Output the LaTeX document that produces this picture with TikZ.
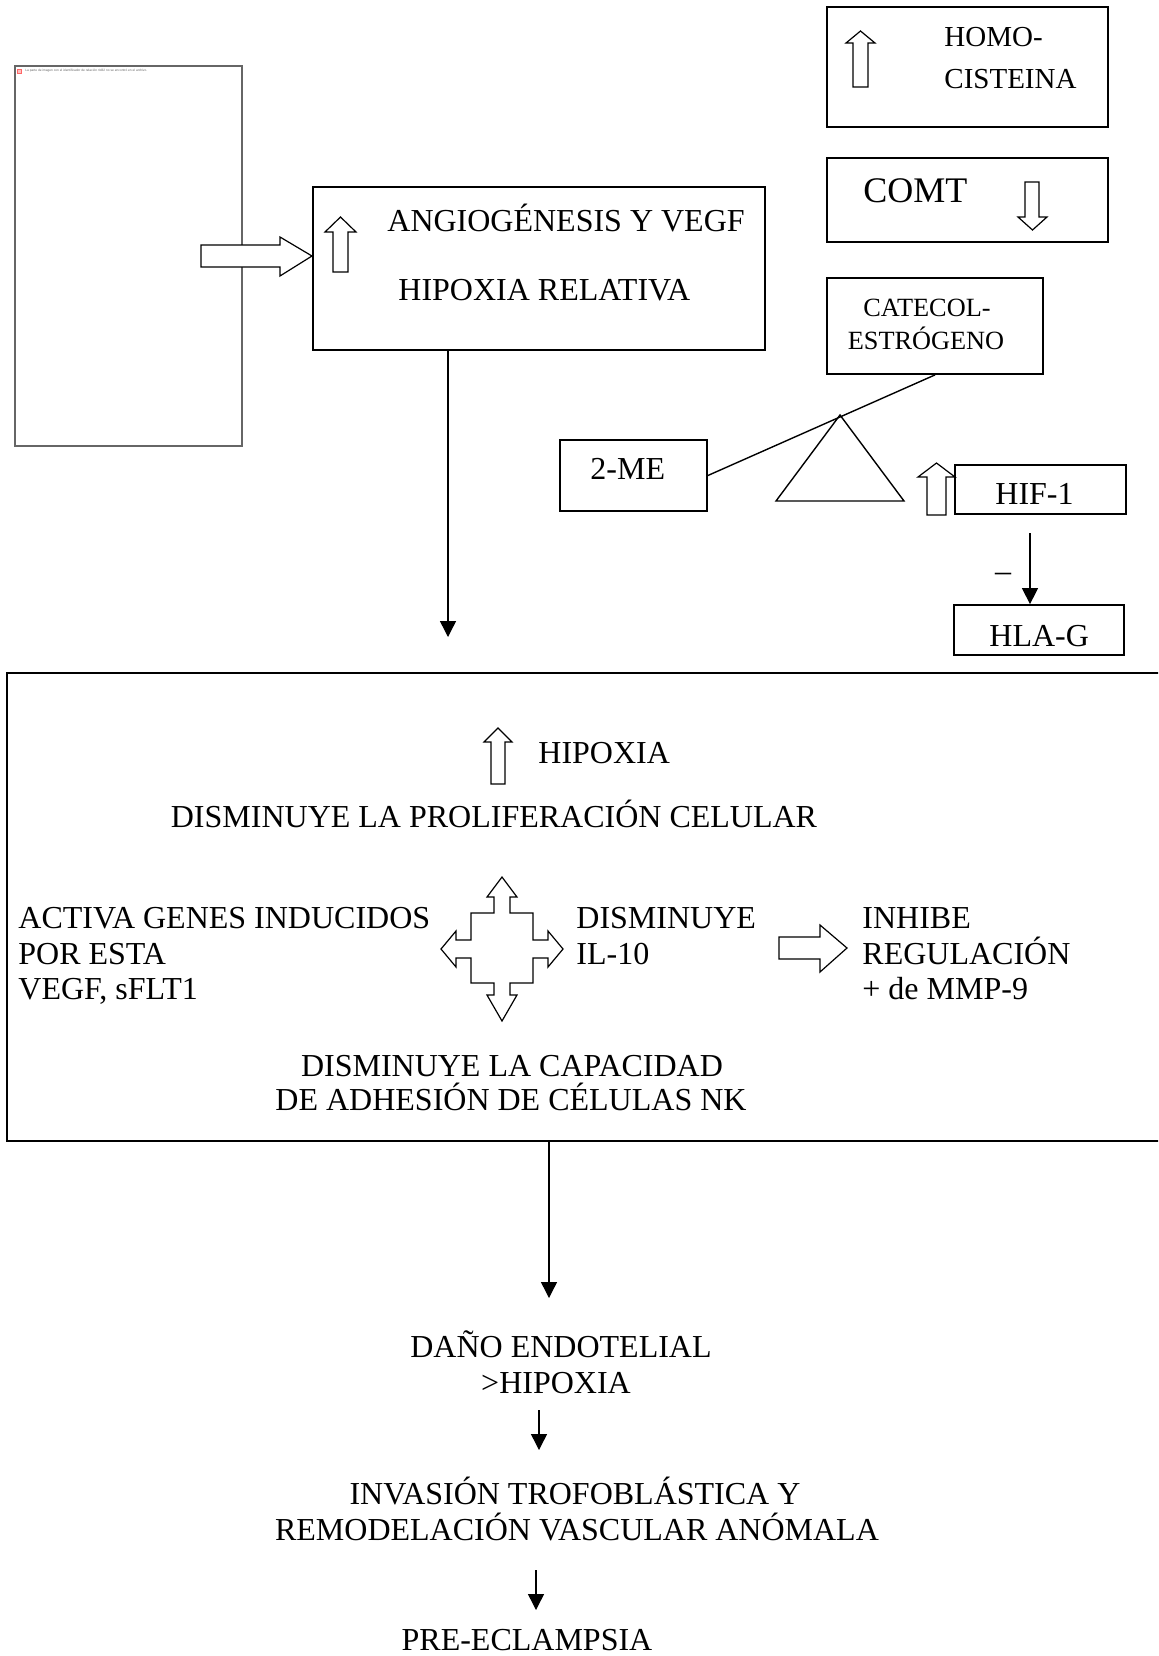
\documentclass[tikz,border=0pt]{standalone}
\usepackage{fontspec}
\setmainfont{Liberation Serif}
\newfontfamily\smallsans{Liberation Sans}
\usetikzlibrary{arrows.meta}
\tikzset{
  boxnode/.style={draw, line width=0.9pt, inner sep=0pt, rectangle},
  txt/.style={inner sep=0pt, font=\fontsize{16}{18}\selectfont},
  blk/.style={draw, line width=0.6pt, fill=white, line join=miter},
  arr/.style={line width=0.7pt, -{Triangle[width=8pt,length=8pt]}},
  plain/.style={line width=0.7pt}
}
\begin{document}
\begin{tikzpicture}[x=0.5pt, y=-0.5pt]
\useasboundingbox (0,0) rectangle (1158,1656);
\clip (0,0) rectangle (1158,1656);
\fill[white] (0,0) rectangle (1158,1656);

% missing picture frame
\node[draw=black!60, line width=0.6pt, inner sep=0pt, minimum width=113.5pt, minimum height=190pt] (img) at (128.5,256) {};
\node[draw=red!60, fill=red!25, line width=0.2pt, inner sep=0pt, minimum size=2pt] (icon) at (19,71) {};
\node[inner sep=0pt, anchor=west, text=black!60, font=\smallsans\fontsize{1.6}{2}\selectfont] (imgtxt) at (25,71) {La parte de imagen con el identificador de relación rId32 no se encontró en el archivo.};

% block arrow into angiogenesis box
\draw[blk] (201,245) -- (280,245) -- (280,237) -- (312,256) -- (280,276) -- (280,267) -- (201,267) -- cycle;

% angiogenesis box
\node[boxnode, minimum width=226pt, minimum height=81.5pt] (angio) at (539,268.5) {};
\draw[blk] (340.5,217) -- (356,232) -- (348,232) -- (348,272) -- (333,272) -- (333,232) -- (325,232) -- cycle;
\node[txt, anchor=base west] (angio1) at (387,231) {ANGIOGÉNESIS Y VEGF};
\node[txt, anchor=base west] (angio2) at (398,300) {HIPOXIA RELATIVA};

% homocisteina
\node[boxnode, minimum width=140.5pt, minimum height=60pt] (homo) at (967.5,67) {};
\draw[blk] (860.5,31) -- (875,43) -- (868,43) -- (868,87) -- (853,87) -- (853,43) -- (846,43) -- cycle;
\node[txt, font=\fontsize{14.5}{17}\selectfont, anchor=base west] (homo1) at (944,46) {HOMO-};
\node[txt, font=\fontsize{14.5}{17}\selectfont, anchor=base west] (homo2) at (944,88) {CISTEINA};

% COMT
\node[boxnode, minimum width=140.5pt, minimum height=42pt] (comt) at (967.5,200) {};
\node[txt, font=\fontsize{18}{21}\selectfont, anchor=base west] (comtt) at (863,202) {COMT};
\draw[blk] (1025,182) -- (1039,182) -- (1039,217) -- (1047,217) -- (1032.5,230) -- (1018,217) -- (1025,217) -- cycle;

% catecol-estrogeno
\node[boxnode, minimum width=108pt, minimum height=48pt] (cat) at (935,326) {};
\node[txt, font=\fontsize{13.15}{15}\selectfont, anchor=base] (cat1) at (927,316) {CATECOL-};
\node[txt, font=\fontsize{13.15}{15}\selectfont, anchor=base] (cat2) at (926,349) {ESTRÓGENO};

% 2-ME and balance
\node[boxnode, minimum width=73.5pt, minimum height=35.5pt] (me) at (633.5,475.5) {};
\node[txt, anchor=base west] (met) at (590,479) {2-ME};
\draw[plain] (me.east) -- (cat.south);
\draw[plain, line join=miter] (840,415) -- (904,501) -- (776,501) -- cycle;

% HIF-1
\draw[blk] (936.5,463) -- (955,477) -- (946,477) -- (946,515) -- (927,515) -- (927,477) -- (918,477) -- cycle;
\node[boxnode, minimum width=85.5pt, minimum height=24.5pt] (hif) at (1040.5,489.5) {};
\node[txt, anchor=base west] (hift) at (995,504) {HIF-1};

% HLA-G
\node[boxnode, minimum width=85pt, minimum height=25pt] (hla) at (1039,630) {};
\node[txt, anchor=base west] (hlat) at (989,646) {HLA-G};
\coordinate (s3) at (1030,533);
\draw[arr] (s3) -- (hla.north -| s3);
\node[txt] (minus) at (1003,577) {–};

% main arrow down
\coordinate (t1) at (448,637);
\draw[arr] (angio.south -| t1) -- (t1);

% big box
\node[boxnode, minimum width=584pt, minimum height=234pt] (big) at (591,907) {};
\draw[blk] (498,728) -- (512,742) -- (505,742) -- (505,784) -- (491,784) -- (491,742) -- (484,742) -- cycle;
\node[txt, anchor=base west] (hip) at (538,763) {HIPOXIA};
\node[txt, anchor=base] (prol) at (494,827) {DISMINUYE LA PROLIFERACIÓN CELULAR};
\node[txt, anchor=base west] (act1) at (18,928) {ACTIVA GENES INDUCIDOS};
\node[txt, anchor=base west] (act2) at (18,964) {POR ESTA};
\node[txt, anchor=base west] (act3) at (18,999) {VEGF, sFLT1};
\node[txt, anchor=base west] (il1) at (576,928) {DISMINUYE};
\node[txt, anchor=base west] (il2) at (576,964) {IL-10};
\node[txt, anchor=base west] (inh1) at (862,928) {INHIBE};
\node[txt, anchor=base west] (inh2) at (862,964) {REGULACIÓN};
\node[txt, anchor=base west] (inh3) at (862,999) {+ de MMP-9};
\node[txt, anchor=base] (cap1) at (512,1076) {DISMINUYE LA CAPACIDAD};
\node[txt, anchor=base] (cap2) at (511,1110) {DE ADHESIÓN DE CÉLULAS NK};
% quad arrow
\begin{scope}[shift={(502,949)}]
\draw[blk] (0,-72) -- (15,-52) -- (8,-52) -- (8,-36) -- (31,-36) -- (31,-9) -- (46,-9) -- (46,-18) -- (61,0) -- (46,18) -- (46,9) -- (31,9) -- (31,34) -- (8,34) -- (8,46) -- (15,46) -- (0,72) -- (-15,46) -- (-8,46) -- (-8,34) -- (-31,34) -- (-31,9) -- (-46,9) -- (-46,18) -- (-61,0) -- (-46,-18) -- (-46,-9) -- (-31,-9) -- (-31,-36) -- (-8,-36) -- (-8,-52) -- (-15,-52) -- cycle;
\end{scope}
% right block arrow
\draw[blk] (779,937) -- (820,937) -- (820,925) -- (847,948) -- (820,972) -- (820,959) -- (779,959) -- cycle;

% lower chain
\coordinate (t2) at (549,1298);
\draw[arr] (big.south -| t2) -- (t2);
\node[txt, anchor=base] (dano1) at (561,1357) {DAÑO ENDOTELIAL};
\node[txt, anchor=base] (dano2) at (556,1393) {>HIPOXIA};
\coordinate (s4) at (539,1410);
\coordinate (t4) at (539,1450);
\draw[arr] (s4) -- (t4);
\node[txt, anchor=base] (inv1) at (575,1504) {INVASIÓN TROFOBLÁSTICA Y};
\node[txt, anchor=base] (inv2) at (577,1540) {REMODELACIÓN VASCULAR ANÓMALA};
\coordinate (s5) at (536,1570);
\coordinate (t5) at (536,1610);
\draw[arr] (s5) -- (t5);
\node[txt, anchor=base] (pre) at (527,1650) {PRE-ECLAMPSIA};
\end{tikzpicture}
\end{document}
